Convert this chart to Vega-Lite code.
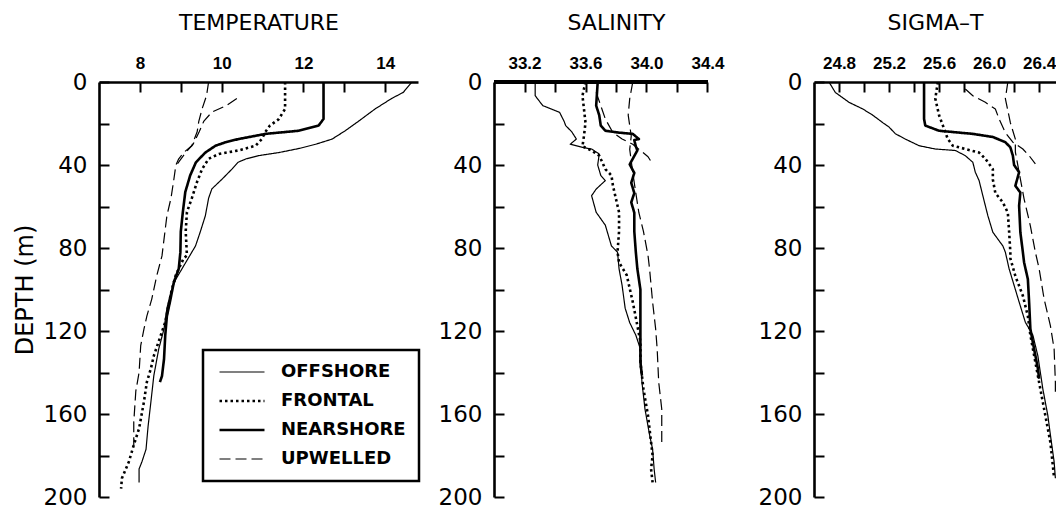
{
  "$schema": "https://vega.github.io/schema/vega-lite/v6.json",
  "background": "white",
  "padding": {"left": 13, "top": 11, "right": 0, "bottom": 0},
  "spacing": 76,
  "bounds": "flush",
  "config": {
    "view": {"stroke": null},
    "axis": {
      "domainColor": "black", "domainWidth": 2.6, "tickColor": "black", "tickWidth": 2, "tickSize": -10,
      "grid": false, "labelColor": "black", "titleColor": "black",
      "labelFont": "DejaVu Sans", "titleFont": "DejaVu Sans", "titleFontWeight": "normal"
    }
  },
  "resolve": {"scale": {"strokeDash": "independent"}, "legend": {"strokeDash": "independent"}},
  "datasets": {
    "temperature": [
      {"profile": "OFFSHORE", "cast": "a", "depth": 0, "value": 14.65},
      {"profile": "OFFSHORE", "cast": "a", "depth": 5, "value": 14.44},
      {"profile": "OFFSHORE", "cast": "a", "depth": 8, "value": 14.15},
      {"profile": "OFFSHORE", "cast": "a", "depth": 13, "value": 13.75},
      {"profile": "OFFSHORE", "cast": "a", "depth": 19, "value": 13.34},
      {"profile": "OFFSHORE", "cast": "a", "depth": 23.5, "value": 13.02},
      {"profile": "OFFSHORE", "cast": "a", "depth": 27.5, "value": 12.7},
      {"profile": "OFFSHORE", "cast": "a", "depth": 30, "value": 12.3},
      {"profile": "OFFSHORE", "cast": "a", "depth": 32, "value": 11.9},
      {"profile": "OFFSHORE", "cast": "a", "depth": 34, "value": 11.4},
      {"profile": "OFFSHORE", "cast": "a", "depth": 35.5, "value": 10.9},
      {"profile": "OFFSHORE", "cast": "a", "depth": 37, "value": 10.6},
      {"profile": "OFFSHORE", "cast": "a", "depth": 38.7, "value": 10.4},
      {"profile": "OFFSHORE", "cast": "a", "depth": 42, "value": 10.25},
      {"profile": "OFFSHORE", "cast": "a", "depth": 47, "value": 10.0},
      {"profile": "OFFSHORE", "cast": "a", "depth": 51.5, "value": 9.76},
      {"profile": "OFFSHORE", "cast": "a", "depth": 56, "value": 9.68},
      {"profile": "OFFSHORE", "cast": "a", "depth": 64.5, "value": 9.6},
      {"profile": "OFFSHORE", "cast": "a", "depth": 72, "value": 9.48},
      {"profile": "OFFSHORE", "cast": "a", "depth": 79, "value": 9.36},
      {"profile": "OFFSHORE", "cast": "a", "depth": 82, "value": 9.27},
      {"profile": "OFFSHORE", "cast": "a", "depth": 87, "value": 9.12},
      {"profile": "OFFSHORE", "cast": "a", "depth": 95, "value": 8.88},
      {"profile": "OFFSHORE", "cast": "a", "depth": 101, "value": 8.76},
      {"profile": "OFFSHORE", "cast": "a", "depth": 109, "value": 8.66},
      {"profile": "OFFSHORE", "cast": "a", "depth": 119, "value": 8.59},
      {"profile": "OFFSHORE", "cast": "a", "depth": 128.7, "value": 8.46},
      {"profile": "OFFSHORE", "cast": "a", "depth": 141.6, "value": 8.34},
      {"profile": "OFFSHORE", "cast": "a", "depth": 154, "value": 8.27},
      {"profile": "OFFSHORE", "cast": "a", "depth": 166, "value": 8.2},
      {"profile": "OFFSHORE", "cast": "a", "depth": 177, "value": 8.15},
      {"profile": "OFFSHORE", "cast": "a", "depth": 183, "value": 8.05},
      {"profile": "OFFSHORE", "cast": "a", "depth": 186.5, "value": 7.98},
      {"profile": "OFFSHORE", "cast": "a", "depth": 193, "value": 7.98},
      {"profile": "FRONTAL", "cast": "a", "depth": 0, "value": 11.55},
      {"profile": "FRONTAL", "cast": "a", "depth": 13, "value": 11.55},
      {"profile": "FRONTAL", "cast": "a", "depth": 18, "value": 11.39},
      {"profile": "FRONTAL", "cast": "a", "depth": 21, "value": 11.18},
      {"profile": "FRONTAL", "cast": "a", "depth": 24, "value": 11.07},
      {"profile": "FRONTAL", "cast": "a", "depth": 27.5, "value": 10.98},
      {"profile": "FRONTAL", "cast": "a", "depth": 30.7, "value": 10.83},
      {"profile": "FRONTAL", "cast": "a", "depth": 33, "value": 10.41},
      {"profile": "FRONTAL", "cast": "a", "depth": 34.7, "value": 9.93},
      {"profile": "FRONTAL", "cast": "a", "depth": 37, "value": 9.68},
      {"profile": "FRONTAL", "cast": "a", "depth": 42, "value": 9.52},
      {"profile": "FRONTAL", "cast": "a", "depth": 48, "value": 9.4},
      {"profile": "FRONTAL", "cast": "a", "depth": 56, "value": 9.27},
      {"profile": "FRONTAL", "cast": "a", "depth": 62.7, "value": 9.15},
      {"profile": "FRONTAL", "cast": "a", "depth": 72, "value": 9.12},
      {"profile": "FRONTAL", "cast": "a", "depth": 83.6, "value": 9.15},
      {"profile": "FRONTAL", "cast": "a", "depth": 85, "value": 9.07},
      {"profile": "FRONTAL", "cast": "a", "depth": 93, "value": 8.88},
      {"profile": "FRONTAL", "cast": "a", "depth": 100, "value": 8.78},
      {"profile": "FRONTAL", "cast": "a", "depth": 115.7, "value": 8.62},
      {"profile": "FRONTAL", "cast": "a", "depth": 125, "value": 8.46},
      {"profile": "FRONTAL", "cast": "a", "depth": 132, "value": 8.34},
      {"profile": "FRONTAL", "cast": "a", "depth": 138, "value": 8.27},
      {"profile": "FRONTAL", "cast": "a", "depth": 144.6, "value": 8.17},
      {"profile": "FRONTAL", "cast": "a", "depth": 154, "value": 8.1},
      {"profile": "FRONTAL", "cast": "a", "depth": 167, "value": 7.98},
      {"profile": "FRONTAL", "cast": "a", "depth": 175, "value": 7.85},
      {"profile": "FRONTAL", "cast": "a", "depth": 183, "value": 7.73},
      {"profile": "FRONTAL", "cast": "a", "depth": 191, "value": 7.56},
      {"profile": "FRONTAL", "cast": "a", "depth": 196, "value": 7.54},
      {"profile": "NEARSHORE", "cast": "a", "depth": 0, "value": 12.49},
      {"profile": "NEARSHORE", "cast": "a", "depth": 17.8, "value": 12.49},
      {"profile": "NEARSHORE", "cast": "a", "depth": 21, "value": 12.37},
      {"profile": "NEARSHORE", "cast": "a", "depth": 23.5, "value": 11.88},
      {"profile": "NEARSHORE", "cast": "a", "depth": 25, "value": 11.07},
      {"profile": "NEARSHORE", "cast": "a", "depth": 27.5, "value": 10.41},
      {"profile": "NEARSHORE", "cast": "a", "depth": 29, "value": 10.1},
      {"profile": "NEARSHORE", "cast": "a", "depth": 30.7, "value": 9.85},
      {"profile": "NEARSHORE", "cast": "a", "depth": 34, "value": 9.6},
      {"profile": "NEARSHORE", "cast": "a", "depth": 38.7, "value": 9.37},
      {"profile": "NEARSHORE", "cast": "a", "depth": 45, "value": 9.23},
      {"profile": "NEARSHORE", "cast": "a", "depth": 53, "value": 9.11},
      {"profile": "NEARSHORE", "cast": "a", "depth": 62.7, "value": 9.05},
      {"profile": "NEARSHORE", "cast": "a", "depth": 72, "value": 9.0},
      {"profile": "NEARSHORE", "cast": "a", "depth": 82, "value": 8.99},
      {"profile": "NEARSHORE", "cast": "a", "depth": 90, "value": 8.95},
      {"profile": "NEARSHORE", "cast": "a", "depth": 96.5, "value": 8.83},
      {"profile": "NEARSHORE", "cast": "a", "depth": 104.5, "value": 8.75},
      {"profile": "NEARSHORE", "cast": "a", "depth": 112.8, "value": 8.66},
      {"profile": "NEARSHORE", "cast": "a", "depth": 122, "value": 8.62},
      {"profile": "NEARSHORE", "cast": "a", "depth": 133.5, "value": 8.59},
      {"profile": "NEARSHORE", "cast": "a", "depth": 141.7, "value": 8.54},
      {"profile": "NEARSHORE", "cast": "a", "depth": 144.6, "value": 8.49},
      {"profile": "UPWELLED", "cast": "a", "depth": 0, "value": 9.68},
      {"profile": "UPWELLED", "cast": "a", "depth": 6.5, "value": 9.63},
      {"profile": "UPWELLED", "cast": "a", "depth": 13, "value": 9.52},
      {"profile": "UPWELLED", "cast": "a", "depth": 19, "value": 9.44},
      {"profile": "UPWELLED", "cast": "a", "depth": 24, "value": 9.4},
      {"profile": "UPWELLED", "cast": "a", "depth": 30.7, "value": 9.27},
      {"profile": "UPWELLED", "cast": "a", "depth": 34, "value": 9.07},
      {"profile": "UPWELLED", "cast": "a", "depth": 37, "value": 8.95},
      {"profile": "UPWELLED", "cast": "a", "depth": 40, "value": 8.88},
      {"profile": "UPWELLED", "cast": "a", "depth": 47, "value": 8.83},
      {"profile": "UPWELLED", "cast": "a", "depth": 56, "value": 8.76},
      {"profile": "UPWELLED", "cast": "a", "depth": 64.5, "value": 8.66},
      {"profile": "UPWELLED", "cast": "a", "depth": 75.7, "value": 8.59},
      {"profile": "UPWELLED", "cast": "a", "depth": 83.8, "value": 8.54},
      {"profile": "UPWELLED", "cast": "a", "depth": 93.5, "value": 8.41},
      {"profile": "UPWELLED", "cast": "a", "depth": 104.6, "value": 8.29},
      {"profile": "UPWELLED", "cast": "a", "depth": 112.8, "value": 8.17},
      {"profile": "UPWELLED", "cast": "a", "depth": 119, "value": 8.1},
      {"profile": "UPWELLED", "cast": "a", "depth": 127, "value": 8.02},
      {"profile": "UPWELLED", "cast": "a", "depth": 140, "value": 7.98},
      {"profile": "UPWELLED", "cast": "a", "depth": 149, "value": 7.9},
      {"profile": "UPWELLED", "cast": "a", "depth": 164, "value": 7.85},
      {"profile": "UPWELLED", "cast": "a", "depth": 175, "value": 7.85},
      {"profile": "UPWELLED", "cast": "b", "depth": 8, "value": 10.37},
      {"profile": "UPWELLED", "cast": "b", "depth": 11.5, "value": 10.1},
      {"profile": "UPWELLED", "cast": "b", "depth": 14.5, "value": 9.76},
      {"profile": "UPWELLED", "cast": "b", "depth": 19, "value": 9.56},
      {"profile": "UPWELLED", "cast": "b", "depth": 24, "value": 9.45},
      {"profile": "UPWELLED", "cast": "b", "depth": 30, "value": 9.3},
      {"profile": "UPWELLED", "cast": "b", "depth": 34, "value": 9.12},
      {"profile": "UPWELLED", "cast": "b", "depth": 38, "value": 8.97},
      {"profile": "UPWELLED", "cast": "b", "depth": 40, "value": 8.9}
    ],
    "salinity": [
      {"profile": "OFFSHORE", "cast": "a", "depth": 0, "value": 33.27},
      {"profile": "OFFSHORE", "cast": "a", "depth": 6.6, "value": 33.27},
      {"profile": "OFFSHORE", "cast": "a", "depth": 11.4, "value": 33.32},
      {"profile": "OFFSHORE", "cast": "a", "depth": 14.6, "value": 33.43},
      {"profile": "OFFSHORE", "cast": "a", "depth": 19, "value": 33.46},
      {"profile": "OFFSHORE", "cast": "a", "depth": 21, "value": 33.47},
      {"profile": "OFFSHORE", "cast": "a", "depth": 24, "value": 33.51},
      {"profile": "OFFSHORE", "cast": "a", "depth": 27.5, "value": 33.54},
      {"profile": "OFFSHORE", "cast": "a", "depth": 30, "value": 33.5},
      {"profile": "OFFSHORE", "cast": "a", "depth": 31.5, "value": 33.58},
      {"profile": "OFFSHORE", "cast": "a", "depth": 32.3, "value": 33.64},
      {"profile": "OFFSHORE", "cast": "a", "depth": 34.7, "value": 33.69},
      {"profile": "OFFSHORE", "cast": "a", "depth": 40, "value": 33.68},
      {"profile": "OFFSHORE", "cast": "a", "depth": 45, "value": 33.7},
      {"profile": "OFFSHORE", "cast": "a", "depth": 47.5, "value": 33.73},
      {"profile": "OFFSHORE", "cast": "a", "depth": 51.6, "value": 33.67},
      {"profile": "OFFSHORE", "cast": "a", "depth": 54.8, "value": 33.64},
      {"profile": "OFFSHORE", "cast": "a", "depth": 62.8, "value": 33.67},
      {"profile": "OFFSHORE", "cast": "a", "depth": 69, "value": 33.73},
      {"profile": "OFFSHORE", "cast": "a", "depth": 79, "value": 33.77},
      {"profile": "OFFSHORE", "cast": "a", "depth": 82, "value": 33.81},
      {"profile": "OFFSHORE", "cast": "a", "depth": 90, "value": 33.82},
      {"profile": "OFFSHORE", "cast": "a", "depth": 98, "value": 33.84},
      {"profile": "OFFSHORE", "cast": "a", "depth": 109, "value": 33.86},
      {"profile": "OFFSHORE", "cast": "a", "depth": 116, "value": 33.89},
      {"profile": "OFFSHORE", "cast": "a", "depth": 122, "value": 33.93},
      {"profile": "OFFSHORE", "cast": "a", "depth": 128.7, "value": 33.96},
      {"profile": "OFFSHORE", "cast": "a", "depth": 144.6, "value": 33.97},
      {"profile": "OFFSHORE", "cast": "a", "depth": 157.6, "value": 33.99},
      {"profile": "OFFSHORE", "cast": "a", "depth": 170, "value": 34.02},
      {"profile": "OFFSHORE", "cast": "a", "depth": 177, "value": 34.04},
      {"profile": "OFFSHORE", "cast": "a", "depth": 186.5, "value": 34.05},
      {"profile": "OFFSHORE", "cast": "a", "depth": 193, "value": 34.06},
      {"profile": "FRONTAL", "cast": "a", "depth": 0, "value": 33.6},
      {"profile": "FRONTAL", "cast": "a", "depth": 6.6, "value": 33.58},
      {"profile": "FRONTAL", "cast": "a", "depth": 13, "value": 33.59},
      {"profile": "FRONTAL", "cast": "a", "depth": 19.6, "value": 33.6},
      {"profile": "FRONTAL", "cast": "a", "depth": 26, "value": 33.59},
      {"profile": "FRONTAL", "cast": "a", "depth": 31, "value": 33.58},
      {"profile": "FRONTAL", "cast": "a", "depth": 33, "value": 33.64},
      {"profile": "FRONTAL", "cast": "a", "depth": 35.5, "value": 33.69},
      {"profile": "FRONTAL", "cast": "a", "depth": 38.7, "value": 33.71},
      {"profile": "FRONTAL", "cast": "a", "depth": 42, "value": 33.73},
      {"profile": "FRONTAL", "cast": "a", "depth": 45, "value": 33.77},
      {"profile": "FRONTAL", "cast": "a", "depth": 50, "value": 33.78},
      {"profile": "FRONTAL", "cast": "a", "depth": 56.4, "value": 33.8},
      {"profile": "FRONTAL", "cast": "a", "depth": 62.8, "value": 33.82},
      {"profile": "FRONTAL", "cast": "a", "depth": 72, "value": 33.82},
      {"profile": "FRONTAL", "cast": "a", "depth": 82, "value": 33.81},
      {"profile": "FRONTAL", "cast": "a", "depth": 87, "value": 33.82},
      {"profile": "FRONTAL", "cast": "a", "depth": 93, "value": 33.87},
      {"profile": "FRONTAL", "cast": "a", "depth": 106, "value": 33.91},
      {"profile": "FRONTAL", "cast": "a", "depth": 117.4, "value": 33.94},
      {"profile": "FRONTAL", "cast": "a", "depth": 125, "value": 33.96},
      {"profile": "FRONTAL", "cast": "a", "depth": 135, "value": 33.96},
      {"profile": "FRONTAL", "cast": "a", "depth": 148, "value": 33.98},
      {"profile": "FRONTAL", "cast": "a", "depth": 160.8, "value": 34.01},
      {"profile": "FRONTAL", "cast": "a", "depth": 173.6, "value": 34.03},
      {"profile": "FRONTAL", "cast": "a", "depth": 180, "value": 34.04},
      {"profile": "FRONTAL", "cast": "a", "depth": 186.5, "value": 34.03},
      {"profile": "FRONTAL", "cast": "a", "depth": 193, "value": 34.04},
      {"profile": "NEARSHORE", "cast": "a", "depth": 0, "value": 33.68},
      {"profile": "NEARSHORE", "cast": "a", "depth": 11.4, "value": 33.67},
      {"profile": "NEARSHORE", "cast": "a", "depth": 16, "value": 33.69},
      {"profile": "NEARSHORE", "cast": "a", "depth": 21, "value": 33.7},
      {"profile": "NEARSHORE", "cast": "a", "depth": 23.5, "value": 33.73},
      {"profile": "NEARSHORE", "cast": "a", "depth": 24.4, "value": 33.82},
      {"profile": "NEARSHORE", "cast": "a", "depth": 25, "value": 33.91},
      {"profile": "NEARSHORE", "cast": "a", "depth": 27.5, "value": 33.95},
      {"profile": "NEARSHORE", "cast": "a", "depth": 28, "value": 33.92},
      {"profile": "NEARSHORE", "cast": "a", "depth": 31, "value": 33.93},
      {"profile": "NEARSHORE", "cast": "a", "depth": 33, "value": 33.94},
      {"profile": "NEARSHORE", "cast": "a", "depth": 37, "value": 33.91},
      {"profile": "NEARSHORE", "cast": "a", "depth": 39.7, "value": 33.89},
      {"profile": "NEARSHORE", "cast": "a", "depth": 43.8, "value": 33.92},
      {"profile": "NEARSHORE", "cast": "a", "depth": 48.6, "value": 33.9},
      {"profile": "NEARSHORE", "cast": "a", "depth": 53.5, "value": 33.92},
      {"profile": "NEARSHORE", "cast": "a", "depth": 58, "value": 33.9},
      {"profile": "NEARSHORE", "cast": "a", "depth": 63, "value": 33.92},
      {"profile": "NEARSHORE", "cast": "a", "depth": 72, "value": 33.92},
      {"profile": "NEARSHORE", "cast": "a", "depth": 82, "value": 33.93},
      {"profile": "NEARSHORE", "cast": "a", "depth": 90, "value": 33.94},
      {"profile": "NEARSHORE", "cast": "a", "depth": 100, "value": 33.96},
      {"profile": "NEARSHORE", "cast": "a", "depth": 112.6, "value": 33.96},
      {"profile": "NEARSHORE", "cast": "a", "depth": 125, "value": 33.96},
      {"profile": "NEARSHORE", "cast": "a", "depth": 135, "value": 33.96},
      {"profile": "NEARSHORE", "cast": "a", "depth": 141.5, "value": 33.97},
      {"profile": "UPWELLED", "cast": "a", "depth": 0, "value": 33.91},
      {"profile": "UPWELLED", "cast": "a", "depth": 8, "value": 33.89},
      {"profile": "UPWELLED", "cast": "a", "depth": 16, "value": 33.88},
      {"profile": "UPWELLED", "cast": "a", "depth": 26, "value": 33.9},
      {"profile": "UPWELLED", "cast": "a", "depth": 32.5, "value": 33.89},
      {"profile": "UPWELLED", "cast": "a", "depth": 43.8, "value": 33.91},
      {"profile": "UPWELLED", "cast": "a", "depth": 53.5, "value": 33.93},
      {"profile": "UPWELLED", "cast": "a", "depth": 63, "value": 33.95},
      {"profile": "UPWELLED", "cast": "a", "depth": 72, "value": 33.98},
      {"profile": "UPWELLED", "cast": "a", "depth": 83.6, "value": 34.01},
      {"profile": "UPWELLED", "cast": "a", "depth": 90, "value": 34.02},
      {"profile": "UPWELLED", "cast": "a", "depth": 106, "value": 34.04},
      {"profile": "UPWELLED", "cast": "a", "depth": 119, "value": 34.06},
      {"profile": "UPWELLED", "cast": "a", "depth": 128.7, "value": 34.07},
      {"profile": "UPWELLED", "cast": "a", "depth": 144.6, "value": 34.08},
      {"profile": "UPWELLED", "cast": "a", "depth": 157.6, "value": 34.1},
      {"profile": "UPWELLED", "cast": "a", "depth": 173.6, "value": 34.1},
      {"profile": "UPWELLED", "cast": "b", "depth": 5, "value": 33.67},
      {"profile": "UPWELLED", "cast": "b", "depth": 11.4, "value": 33.7},
      {"profile": "UPWELLED", "cast": "b", "depth": 17.8, "value": 33.73},
      {"profile": "UPWELLED", "cast": "b", "depth": 24.4, "value": 33.78},
      {"profile": "UPWELLED", "cast": "b", "depth": 27.5, "value": 33.84},
      {"profile": "UPWELLED", "cast": "b", "depth": 30, "value": 33.91},
      {"profile": "UPWELLED", "cast": "b", "depth": 33, "value": 33.96},
      {"profile": "UPWELLED", "cast": "b", "depth": 36, "value": 34.01},
      {"profile": "UPWELLED", "cast": "b", "depth": 39.5, "value": 34.04}
    ],
    "sigmat": [
      {"profile": "OFFSHORE", "cast": "a", "depth": 0, "value": 24.72},
      {"profile": "OFFSHORE", "cast": "a", "depth": 5, "value": 24.77},
      {"profile": "OFFSHORE", "cast": "a", "depth": 9.8, "value": 24.88},
      {"profile": "OFFSHORE", "cast": "a", "depth": 13, "value": 24.99},
      {"profile": "OFFSHORE", "cast": "a", "depth": 16, "value": 25.07},
      {"profile": "OFFSHORE", "cast": "a", "depth": 19.6, "value": 25.15},
      {"profile": "OFFSHORE", "cast": "a", "depth": 21.7, "value": 25.2},
      {"profile": "OFFSHORE", "cast": "a", "depth": 24.9, "value": 25.25},
      {"profile": "OFFSHORE", "cast": "a", "depth": 27.5, "value": 25.33},
      {"profile": "OFFSHORE", "cast": "a", "depth": 30.7, "value": 25.44},
      {"profile": "OFFSHORE", "cast": "a", "depth": 32.3, "value": 25.57},
      {"profile": "OFFSHORE", "cast": "a", "depth": 33, "value": 25.73},
      {"profile": "OFFSHORE", "cast": "a", "depth": 35.5, "value": 25.81},
      {"profile": "OFFSHORE", "cast": "a", "depth": 38.7, "value": 25.87},
      {"profile": "OFFSHORE", "cast": "a", "depth": 43.5, "value": 25.89},
      {"profile": "OFFSHORE", "cast": "a", "depth": 47.5, "value": 25.92},
      {"profile": "OFFSHORE", "cast": "a", "depth": 54.8, "value": 25.95},
      {"profile": "OFFSHORE", "cast": "a", "depth": 64.4, "value": 25.99},
      {"profile": "OFFSHORE", "cast": "a", "depth": 72.4, "value": 26.03},
      {"profile": "OFFSHORE", "cast": "a", "depth": 79, "value": 26.11},
      {"profile": "OFFSHORE", "cast": "a", "depth": 82, "value": 26.13},
      {"profile": "OFFSHORE", "cast": "a", "depth": 90, "value": 26.16},
      {"profile": "OFFSHORE", "cast": "a", "depth": 100, "value": 26.21},
      {"profile": "OFFSHORE", "cast": "a", "depth": 106, "value": 26.24},
      {"profile": "OFFSHORE", "cast": "a", "depth": 115.8, "value": 26.29},
      {"profile": "OFFSHORE", "cast": "a", "depth": 122, "value": 26.35},
      {"profile": "OFFSHORE", "cast": "a", "depth": 132, "value": 26.39},
      {"profile": "OFFSHORE", "cast": "a", "depth": 148, "value": 26.43},
      {"profile": "OFFSHORE", "cast": "a", "depth": 160.8, "value": 26.47},
      {"profile": "OFFSHORE", "cast": "a", "depth": 170, "value": 26.49},
      {"profile": "OFFSHORE", "cast": "a", "depth": 183, "value": 26.52},
      {"profile": "OFFSHORE", "cast": "a", "depth": 191, "value": 26.53},
      {"profile": "FRONTAL", "cast": "a", "depth": 0, "value": 25.59},
      {"profile": "FRONTAL", "cast": "a", "depth": 8, "value": 25.57},
      {"profile": "FRONTAL", "cast": "a", "depth": 16, "value": 25.6},
      {"profile": "FRONTAL", "cast": "a", "depth": 22.5, "value": 25.64},
      {"profile": "FRONTAL", "cast": "a", "depth": 27.5, "value": 25.67},
      {"profile": "FRONTAL", "cast": "a", "depth": 30.7, "value": 25.71},
      {"profile": "FRONTAL", "cast": "a", "depth": 32.3, "value": 25.81},
      {"profile": "FRONTAL", "cast": "a", "depth": 34, "value": 25.92},
      {"profile": "FRONTAL", "cast": "a", "depth": 37, "value": 25.97},
      {"profile": "FRONTAL", "cast": "a", "depth": 42, "value": 26.03},
      {"profile": "FRONTAL", "cast": "a", "depth": 47, "value": 26.03},
      {"profile": "FRONTAL", "cast": "a", "depth": 53.5, "value": 26.05},
      {"profile": "FRONTAL", "cast": "a", "depth": 58, "value": 26.11},
      {"profile": "FRONTAL", "cast": "a", "depth": 63, "value": 26.15},
      {"profile": "FRONTAL", "cast": "a", "depth": 72, "value": 26.16},
      {"profile": "FRONTAL", "cast": "a", "depth": 82, "value": 26.17},
      {"profile": "FRONTAL", "cast": "a", "depth": 85, "value": 26.17},
      {"profile": "FRONTAL", "cast": "a", "depth": 93.5, "value": 26.21},
      {"profile": "FRONTAL", "cast": "a", "depth": 103, "value": 26.27},
      {"profile": "FRONTAL", "cast": "a", "depth": 112.8, "value": 26.31},
      {"profile": "FRONTAL", "cast": "a", "depth": 122, "value": 26.33},
      {"profile": "FRONTAL", "cast": "a", "depth": 135, "value": 26.37},
      {"profile": "FRONTAL", "cast": "a", "depth": 148, "value": 26.41},
      {"profile": "FRONTAL", "cast": "a", "depth": 160.8, "value": 26.45},
      {"profile": "FRONTAL", "cast": "a", "depth": 173.6, "value": 26.49},
      {"profile": "FRONTAL", "cast": "a", "depth": 185, "value": 26.51},
      {"profile": "FRONTAL", "cast": "a", "depth": 191, "value": 26.52},
      {"profile": "NEARSHORE", "cast": "a", "depth": 0, "value": 25.48},
      {"profile": "NEARSHORE", "cast": "a", "depth": 17.8, "value": 25.48},
      {"profile": "NEARSHORE", "cast": "a", "depth": 21, "value": 25.49},
      {"profile": "NEARSHORE", "cast": "a", "depth": 23.5, "value": 25.6},
      {"profile": "NEARSHORE", "cast": "a", "depth": 25, "value": 25.87},
      {"profile": "NEARSHORE", "cast": "a", "depth": 26.5, "value": 26.03},
      {"profile": "NEARSHORE", "cast": "a", "depth": 29, "value": 26.13},
      {"profile": "NEARSHORE", "cast": "a", "depth": 31.5, "value": 26.17},
      {"profile": "NEARSHORE", "cast": "a", "depth": 35.5, "value": 26.19},
      {"profile": "NEARSHORE", "cast": "a", "depth": 40, "value": 26.2},
      {"profile": "NEARSHORE", "cast": "a", "depth": 43.5, "value": 26.24},
      {"profile": "NEARSHORE", "cast": "a", "depth": 50, "value": 26.21},
      {"profile": "NEARSHORE", "cast": "a", "depth": 53.3, "value": 26.25},
      {"profile": "NEARSHORE", "cast": "a", "depth": 59.6, "value": 26.24},
      {"profile": "NEARSHORE", "cast": "a", "depth": 72.4, "value": 26.25},
      {"profile": "NEARSHORE", "cast": "a", "depth": 82, "value": 26.27},
      {"profile": "NEARSHORE", "cast": "a", "depth": 87, "value": 26.28},
      {"profile": "NEARSHORE", "cast": "a", "depth": 95, "value": 26.31},
      {"profile": "NEARSHORE", "cast": "a", "depth": 106, "value": 26.32},
      {"profile": "NEARSHORE", "cast": "a", "depth": 119, "value": 26.33},
      {"profile": "NEARSHORE", "cast": "a", "depth": 128.7, "value": 26.36},
      {"profile": "NEARSHORE", "cast": "a", "depth": 138, "value": 26.39},
      {"profile": "NEARSHORE", "cast": "a", "depth": 143, "value": 26.4},
      {"profile": "UPWELLED", "cast": "a", "depth": 0, "value": 26.15},
      {"profile": "UPWELLED", "cast": "a", "depth": 8, "value": 26.13},
      {"profile": "UPWELLED", "cast": "a", "depth": 19.6, "value": 26.17},
      {"profile": "UPWELLED", "cast": "a", "depth": 27.5, "value": 26.21},
      {"profile": "UPWELLED", "cast": "a", "depth": 33.7, "value": 26.21},
      {"profile": "UPWELLED", "cast": "a", "depth": 43.5, "value": 26.24},
      {"profile": "UPWELLED", "cast": "a", "depth": 56.4, "value": 26.28},
      {"profile": "UPWELLED", "cast": "a", "depth": 69.3, "value": 26.33},
      {"profile": "UPWELLED", "cast": "a", "depth": 82, "value": 26.37},
      {"profile": "UPWELLED", "cast": "a", "depth": 90, "value": 26.4},
      {"profile": "UPWELLED", "cast": "a", "depth": 104.6, "value": 26.44},
      {"profile": "UPWELLED", "cast": "a", "depth": 117.4, "value": 26.49},
      {"profile": "UPWELLED", "cast": "a", "depth": 128.7, "value": 26.52},
      {"profile": "UPWELLED", "cast": "a", "depth": 144.6, "value": 26.53},
      {"profile": "UPWELLED", "cast": "a", "depth": 151, "value": 26.53},
      {"profile": "UPWELLED", "cast": "b", "depth": 3.4, "value": 25.81},
      {"profile": "UPWELLED", "cast": "b", "depth": 6.6, "value": 25.87},
      {"profile": "UPWELLED", "cast": "b", "depth": 9.8, "value": 25.97},
      {"profile": "UPWELLED", "cast": "b", "depth": 13, "value": 26.05},
      {"profile": "UPWELLED", "cast": "b", "depth": 17.8, "value": 26.08},
      {"profile": "UPWELLED", "cast": "b", "depth": 24.4, "value": 26.13},
      {"profile": "UPWELLED", "cast": "b", "depth": 29, "value": 26.19},
      {"profile": "UPWELLED", "cast": "b", "depth": 32.3, "value": 26.27},
      {"profile": "UPWELLED", "cast": "b", "depth": 35.5, "value": 26.32},
      {"profile": "UPWELLED", "cast": "b", "depth": 39.5, "value": 26.37}
    ]
  },
  "hconcat": [
    {
      "width": 319, "height": 415,
      "data": {"name": "temperature"},
      "mark": {"type": "line", "clip": true, "color": "black", "strokeCap": "butt", "strokeJoin": "round"},
      "encoding": {
        "x": {"field": "value", "type": "quantitative", "scale": {"domain": [7, 14.8], "nice": false, "zero": false},
          "axis": {"orient": "top", "title": "TEMPERATURE", "titleFontSize": 22, "titlePadding": 20,
            "values": [8, 9, 10, 11, 12, 13, 14], "labelExpr": "datum.value % 2 == 0 ? datum.label : ''",
            "labelFont": "Liberation Sans", "labelFontWeight": "bold", "labelFontSize": 17, "labelPadding": 20}},
        "y": {"field": "depth", "type": "quantitative", "scale": {"domain": [0, 200], "reverse": true, "nice": false},
          "axis": {"orient": "left", "title": "DEPTH (m)", "titleFontSize": 24, "titlePadding": 6,
            "values": [0, 20, 40, 60, 80, 100, 120, 140, 160, 180, 200], "labelExpr": "datum.value % 40 == 0 ? datum.label : ''",
            "labelFontSize": 23, "labelPadding": 22}},
        "detail": {"field": "cast", "type": "nominal"},
        "order": {"field": "depth", "type": "quantitative"},
        "strokeDash": {"field": "profile", "type": "nominal",
          "scale": {"domain": ["OFFSHORE", "FRONTAL", "NEARSHORE", "UPWELLED"], "range": [[1, 0], [2.5, 3], [1, 0], [11, 5]]},
          "legend": {"orient": "none", "legendX": 104, "legendY": 268, "title": null,
            "symbolType": "M-2,0H2", "symbolSize": 506, "symbolStrokeColor": "black", "symbolOffset": 17,
            "labelFont": "DejaVu Sans", "labelFontWeight": "bold", "labelFontSize": 18, "labelColor": "black",
            "strokeColor": "black", "padding": 13, "rowPadding": 11, "labelOffset": 30,
            "encode": {
              "symbols": {"update": {"strokeWidth": {"signal": "datum.value === 'FRONTAL' || datum.value === 'NEARSHORE' ? 2.6 : 1.2"}}},
              "legend": {"update": {"strokeWidth": {"value": 2.5}}}
            }}},
        "strokeWidth": {"condition": {"test": "datum.profile === 'FRONTAL' || datum.profile === 'NEARSHORE'", "value": 2.6}, "value": 1.2}
      }
    },
    {
      "width": 244, "height": 415,
      "data": {"name": "salinity"},
      "layer": [
        {
          "mark": {"type": "rule", "strokeWidth": 2.3, "color": "black"},
          "encoding": {"x": {"datum": 33.0}, "x2": {"datum": 34.4}, "y": {"datum": 0}}
        },
        {
          "mark": {"type": "line", "clip": true, "color": "black", "strokeCap": "butt", "strokeJoin": "round"},
          "encoding": {
            "x": {"field": "value", "type": "quantitative", "scale": {"domain": [33.0, 34.6], "nice": false, "zero": false},
              "axis": {"orient": "top", "title": "SALINITY", "titleFontSize": 22, "titlePadding": 20, "domain": false,
                "values": [33.2, 33.4, 33.6, 33.8, 34.0, 34.2, 34.4], "labelExpr": "round(datum.value * 10) % 4 == 0 ? format(datum.value, '.1f') : ''",
                "labelFont": "Liberation Sans", "labelFontWeight": "bold", "labelFontSize": 17, "labelPadding": 20}},
            "y": {"field": "depth", "type": "quantitative", "scale": {"domain": [0, 200], "reverse": true, "nice": false},
              "axis": {"orient": "left", "title": null,
                "values": [0, 20, 40, 60, 80, 100, 120, 140, 160, 180, 200], "labelExpr": "datum.value % 40 == 0 ? datum.label : ''",
                "labelFontSize": 23, "labelPadding": 22}},
            "detail": {"field": "cast", "type": "nominal"},
            "order": {"field": "depth", "type": "quantitative"},
            "strokeDash": {"field": "profile", "type": "nominal",
              "scale": {"domain": ["OFFSHORE", "FRONTAL", "NEARSHORE", "UPWELLED"], "range": [[1, 0], [2.5, 3], [1, 0], [11, 5]]},
              "legend": null},
            "strokeWidth": {"condition": {"test": "datum.profile === 'FRONTAL' || datum.profile === 'NEARSHORE'", "value": 2.6}, "value": 1.2}
          }
        }
      ]
    },
    {
      "width": 242, "height": 415,
      "data": {"name": "sigmat"},
      "mark": {"type": "line", "clip": true, "color": "black", "strokeCap": "butt", "strokeJoin": "round"},
      "encoding": {
        "x": {"field": "value", "type": "quantitative", "scale": {"domain": [24.6, 26.535], "nice": false, "zero": false},
          "axis": {"orient": "top", "title": "SIGMA–T", "titleFontSize": 22, "titlePadding": 20,
            "values": [24.8, 25.0, 25.2, 25.4, 25.6, 25.8, 26.0, 26.2, 26.4], "labelExpr": "round(datum.value * 10) % 4 == 0 ? format(datum.value, '.1f') : ''",
            "labelFont": "Liberation Sans", "labelFontWeight": "bold", "labelFontSize": 17, "labelPadding": 20}},
        "y": {"field": "depth", "type": "quantitative", "scale": {"domain": [0, 200], "reverse": true, "nice": false},
          "axis": {"orient": "left", "title": null,
            "values": [0, 20, 40, 60, 80, 100, 120, 140, 160, 180, 200], "labelExpr": "datum.value % 40 == 0 ? datum.label : ''",
            "labelFontSize": 23, "labelPadding": 22}},
        "detail": {"field": "cast", "type": "nominal"},
        "order": {"field": "depth", "type": "quantitative"},
        "strokeDash": {"field": "profile", "type": "nominal",
          "scale": {"domain": ["OFFSHORE", "FRONTAL", "NEARSHORE", "UPWELLED"], "range": [[1, 0], [2.5, 3], [1, 0], [11, 5]]},
          "legend": null},
        "strokeWidth": {"condition": {"test": "datum.profile === 'FRONTAL' || datum.profile === 'NEARSHORE'", "value": 2.6}, "value": 1.2}
      }
    }
  ]
}
